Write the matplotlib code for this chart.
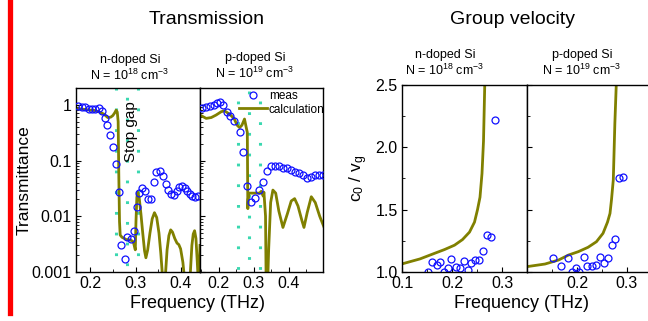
import numpy as np
import matplotlib
matplotlib.use('Agg')
import matplotlib.pyplot as plt
from matplotlib.ticker import MultipleLocator, NullFormatter, LogLocator

plt.rcParams['font.family'] = ['Liberation Sans', 'DejaVu Sans']
plt.rcParams['mathtext.fontset'] = 'custom'
plt.rcParams['mathtext.rm'] = 'Liberation Sans'
plt.rcParams['mathtext.it'] = 'Liberation Sans:italic'
plt.rcParams['mathtext.default'] = 'regular'
plt.rcParams['lines.scale_dashes'] = False

# ---- transmission, n-doped Si (N = 1e18)
n_meas_f = [0.1726, 0.1815, 0.1889, 0.1963, 0.2037, 0.2111, 0.2185, 0.2259, 0.2319, 0.2370,
            0.2444, 0.2504, 0.2563, 0.2630, 0.2689, 0.2756, 0.2815, 0.2889, 0.2963, 0.3022,
            0.3081, 0.3148, 0.3207, 0.3274, 0.3333, 0.3407, 0.3459, 0.3533, 0.3600, 0.3667,
            0.3726, 0.3793, 0.3852, 0.3911, 0.3970, 0.4037, 0.4096, 0.4148, 0.4207, 0.4259,
            0.4319, 0.4393]
n_meas_T = [0.97, 0.93, 0.90, 0.85, 0.84, 0.85, 0.87, 0.78, 0.59, 0.44,
            0.29, 0.175, 0.088, 0.027, 0.0030, 0.0017, 0.0042, 0.0039, 0.0055, 0.0147,
            0.0265, 0.0325, 0.028, 0.020, 0.0207, 0.041, 0.063, 0.066, 0.052, 0.038,
            0.029, 0.0247, 0.024, 0.028, 0.033, 0.035, 0.0325, 0.028, 0.0254, 0.023,
            0.0224, 0.023]
n_calc_f = [0.168, 0.18, 0.19, 0.2, 0.21, 0.22, 0.23, 0.2385, 0.245, 0.2496, 0.254, 0.257,
            0.2595, 0.2615, 0.263, 0.2645, 0.266, 0.27, 0.275, 0.28, 0.285, 0.29, 0.295,
            0.298, 0.2995, 0.301, 0.303, 0.305, 0.308, 0.312, 0.316, 0.32, 0.323, 0.327,
            0.332, 0.337, 0.342, 0.347, 0.352, 0.356, 0.36, 0.363, 0.366, 0.37, 0.374,
            0.378, 0.382, 0.387, 0.392, 0.396, 0.4, 0.405, 0.409, 0.413, 0.417, 0.421,
            0.425, 0.428, 0.431, 0.434, 0.437, 0.44, 0.443]
n_calc_T = [0.86, 0.84, 0.82, 0.80, 0.79, 0.74, 0.68, 0.59, 0.6, 0.64, 0.72, 0.80,
            0.74, 0.5, 0.05, 0.008, 0.0046, 0.0042, 0.0040, 0.0038, 0.0038, 0.0037, 0.0035,
            0.0028, 0.0025, 0.008, 0.022, 0.027, 0.022, 0.011, 0.005, 0.0024, 0.0018, 0.0025,
            0.005, 0.009, 0.0116, 0.0095, 0.005, 0.0022, 0.0008, 0.0004, 0.0008, 0.0025, 0.0045,
            0.0057, 0.0052, 0.0040, 0.0033, 0.0031, 0.0026, 0.0015, 0.0007, 0.0003, 0.0003, 0.0008,
            0.003, 0.0048, 0.0055, 0.0040, 0.0015, 0.0005, 0.003]
n_gap = [0.257, 0.281, 0.305]

# ---- transmission, p-doped Si (N = 1e19)
p_meas_f = [0.1523, 0.1637, 0.175, 0.1866, 0.196, 0.2037, 0.2123, 0.2246, 0.234, 0.2446,
            0.26, 0.2694, 0.281, 0.2932, 0.3047, 0.316, 0.3275, 0.338, 0.3486, 0.3617,
            0.373, 0.3846, 0.396, 0.4066, 0.418, 0.4294, 0.4417, 0.453, 0.4646, 0.476,
            0.4875, 0.497]
p_meas_T = [0.86, 0.92, 0.96, 1.0, 1.07, 1.12, 1.0, 0.75, 0.62, 0.52,
            0.32, 0.145, 0.035, 0.018, 0.0212, 0.030, 0.041, 0.0645, 0.0814, 0.079,
            0.0814, 0.074, 0.072, 0.067, 0.062, 0.0586, 0.054, 0.048, 0.051, 0.054,
            0.054, 0.055]
p_calc_f = [0.147, 0.150, 0.1646, 0.179, 0.193, 0.2074, 0.217, 0.231, 0.244, 0.253, 0.26,
            0.2666, 0.274, 0.279, 0.282, 0.2835, 0.2845, 0.2866, 0.295, 0.305, 0.317, 0.3217,
            0.3274, 0.3294, 0.334, 0.336, 0.339, 0.343, 0.3486, 0.355, 0.363, 0.372, 0.3837,
            0.396, 0.4074, 0.417, 0.4266, 0.438, 0.4437, 0.453, 0.4646, 0.476, 0.4886, 0.5]
p_calc_T = [0.64, 0.64, 0.57, 0.59, 0.655, 0.75, 0.78, 0.68, 0.57, 0.43, 0.39,
            0.43, 0.555, 0.39, 0.32, 0.0137, 0.02, 0.026, 0.026, 0.026, 0.026, 0.028,
            0.023, 0.027, 0.0101, 0.0004, 0.0004, 0.0026, 0.0176, 0.0295, 0.026, 0.0124, 0.0063,
            0.0109, 0.0188, 0.0207, 0.0153, 0.0083, 0.0063, 0.0117, 0.0224, 0.0176, 0.010, 0.0066]
p_gap = [0.255, 0.286, 0.317]

# ---- group velocity c0/vg
gn_meas_f = [0.152, 0.16, 0.169, 0.175, 0.183, 0.192, 0.198, 0.207, 0.215, 0.223, 0.231,
             0.238, 0.246, 0.2545, 0.262, 0.27, 0.2776, 0.2855]
gn_meas_v = [1.0, 1.078, 1.056, 1.083, 1.0, 1.03, 1.104, 1.043, 1.03, 1.088, 1.016,
             1.075, 1.10, 1.10, 1.17, 1.30, 1.28, 2.22]
gn_calc_f = [0.1, 0.136, 0.162, 0.185, 0.205, 0.221, 0.235, 0.245, 0.251, 0.256, 0.26,
             0.263, 0.2655, 0.267]
gn_calc_v = [1.065, 1.105, 1.145, 1.18, 1.215, 1.26, 1.32, 1.40, 1.50, 1.60, 1.79,
             2.05, 2.5, 2.7]

gp_meas_f = [0.151, 0.167, 0.182, 0.19, 0.197, 0.204, 0.2134, 0.22, 0.229, 0.237, 0.2455,
             0.2534, 0.262, 0.269, 0.2767, 0.2833, 0.2925]
gp_meas_v = [1.11, 1.045, 1.11, 0.998, 1.03, 1.0, 1.12, 1.048, 1.05, 1.056, 1.118,
             1.075, 1.11, 1.22, 1.265, 1.756, 1.764]
gp_calc_f = [0.1, 0.136, 0.163, 0.183, 0.2026, 0.222, 0.2389, 0.252, 0.261, 0.266, 0.269,
             0.2726, 0.2757, 0.2785, 0.2795]
gp_calc_v = [1.043, 1.064, 1.096, 1.136, 1.163, 1.198, 1.243, 1.31, 1.40, 1.47, 1.58,
             1.74, 2.19, 2.5, 2.7]

W, H = 648, 321
fig = plt.figure(figsize=(W / 100, H / 100), dpi=100)


def box(x0, x1, y0, y1):
    return [x0 / W, (H - y1) / H, (x1 - x0) / W, (y1 - y0) / H]


olive = '#808000'
blue = '#1010ff'
teal = '#3ad8b0'
meas_kw = dict(ls='none', marker='o', mfc='none', mec=blue, ms=5, mew=0.9)
calc_kw = dict(color=olive, lw=2.0)


def style(ax):
    ax.tick_params(which='both', direction='in', labelsize=11.5, pad=3)
    ax.tick_params(which='major', length=3.5)
    ax.tick_params(which='minor', length=2)
    for s in ax.spines.values():
        s.set_linewidth(1.0)


def gap_lines(ax, xs, offs):
    # dotted stop-gap markers: outer, middle, outer
    for x, o in zip(xs, offs):
        ax.axvline(x, color=teal, lw=2.2, ls=(o, (2.0, 12.9)), zorder=1)


ax1 = fig.add_axes(box(76, 200, 88, 272))
ax2 = fig.add_axes(box(200, 323, 88, 272))
ax3 = fig.add_axes(box(402, 527, 85, 272))
ax4 = fig.add_axes(box(527, 652, 85, 272))

for ax in (ax1, ax2):
    ax.set_yscale('log')
    ax.set_ylim(0.001, 2)
    ax.yaxis.set_major_locator(LogLocator(base=10, numticks=10))
    ax.yaxis.set_minor_locator(LogLocator(base=10, subs=np.arange(2, 10), numticks=10))
    ax.yaxis.set_minor_formatter(NullFormatter())
    style(ax)

gap_lines(ax1, n_gap, [3.1, 10.3, 3.1])
ax1.plot(n_calc_f, n_calc_T, **calc_kw, zorder=2)
ax1.plot(n_meas_f, n_meas_T, **meas_kw, zorder=3)
ax1.set_xlim(0.168, 0.443)
ax1.set_xticks([0.2, 0.3, 0.4])
ax1.xaxis.set_minor_locator(MultipleLocator(0.05))
ax1.set_yticks([0.001, 0.01, 0.1, 1])
ax1.set_yticklabels(['0.001', '0.01', '0.1', '1'])
ax1.set_ylabel('Transmittance', fontsize=12.5, labelpad=0)
ax1.text(0.445, 0.765, 'Stop gap', rotation=90, ha='center', va='center',
         fontsize=11, transform=ax1.transAxes)

gap_lines(ax2, p_gap, [13.0, 5.8, 13.0])
ax2.plot(p_calc_f, p_calc_T, **calc_kw, zorder=2, label='calculation')
ax2.plot(p_meas_f, p_meas_T, **meas_kw, zorder=3, label='meas')
ax2.set_xlim(0.147, 0.498)
ax2.set_xticks([0.2, 0.3, 0.4])
ax2.xaxis.set_minor_locator(MultipleLocator(0.05))
ax2.set_yticks([0.001, 0.01, 0.1, 1])
ax2.set_yticklabels([])
h, l = ax2.get_legend_handles_labels()
ax2.legend(h[::-1], l[::-1], loc='upper left', bbox_to_anchor=(0.32, 0.99), frameon=False,
           fontsize=8.5, numpoints=1, handlelength=2.3, handletextpad=0.2,
           labelspacing=0.15, borderpad=0, borderaxespad=0)

for ax in (ax3, ax4):
    ax.set_ylim(1.0, 2.5)
    ax.set_xlim(0.1, 0.35)
    ax.yaxis.set_major_locator(MultipleLocator(0.5))
    ax.yaxis.set_minor_locator(MultipleLocator(0.25))
    ax.xaxis.set_minor_locator(MultipleLocator(0.05))
    style(ax)

ax3.plot(gn_calc_f, gn_calc_v, **calc_kw)
ax3.plot(gn_meas_f, gn_meas_v, **meas_kw)
ax3.set_xticks([0.1, 0.2, 0.3])
ax3.set_yticks([1.0, 1.5, 2.0, 2.5])
ax3.set_yticklabels(['1.0', '1.5', '2.0', '2.5'])
ax3.set_ylabel('c$_0$ / v$_g$', fontsize=12.5, labelpad=4)

ax4.plot(gp_calc_f, gp_calc_v, **calc_kw)
ax4.plot(gp_meas_f, gp_meas_v, **meas_kw)
ax4.set_xticks([0.2, 0.3])
ax4.set_yticks([1.0, 1.5, 2.0, 2.5])
ax4.set_yticklabels([])

# titles and labels in figure pixels
def ftext(x, y, s, **kw):
    fig.text(x / W, 1 - y / H, s, ha='center', va='center', **kw)


ftext(207, 19, 'Transmission', fontsize=14)
ftext(512, 19, 'Group velocity', fontsize=14)
ftext(130, 60, 'n-doped Si', fontsize=9)
ftext(130, 75, 'N = 10$^{18}$ cm$^{-3}$', fontsize=9)
ftext(255, 58, 'p-doped Si', fontsize=9)
ftext(255, 73, 'N = 10$^{19}$ cm$^{-3}$', fontsize=9)
ftext(445, 55, 'n-doped Si', fontsize=9)
ftext(445, 70, 'N = 10$^{18}$ cm$^{-3}$', fontsize=9)
ftext(582, 55, 'p-doped Si', fontsize=9)
ftext(582, 70, 'N = 10$^{19}$ cm$^{-3}$', fontsize=9)
ftext(197, 303, 'Frequency (THz)', fontsize=13)
ftext(521, 303, 'Frequency (THz)', fontsize=13)

# red bar at the left edge
fig.add_artist(plt.Line2D([9.5 / W, 9.5 / W], [1.0, 1 - 313 / H], color='red', lw=3.8,
                          transform=fig.transFigure))

fig.savefig('out.png', dpi=100)
